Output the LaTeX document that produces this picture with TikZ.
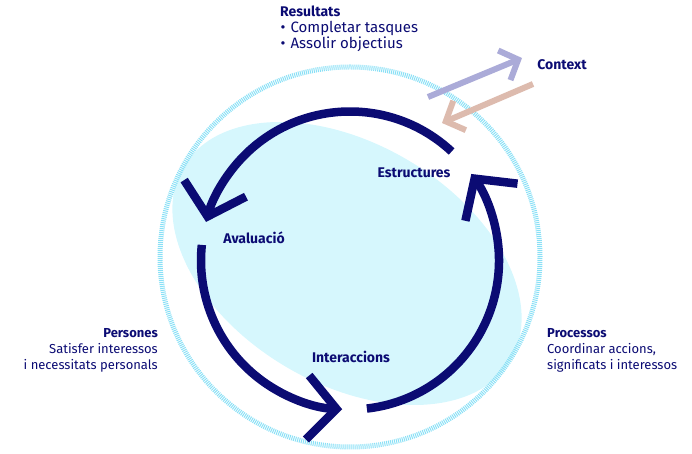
\documentclass[tikz,border=0pt]{standalone}
\usepackage{fontspec}
\setmainfont{Fira Sans}
\usetikzlibrary{arrows.meta}
\usetikzlibrary{positioning}

\definecolor{navy}{HTML}{0B0B73}
\definecolor{cyanfill}{HTML}{D6F7FD}
\definecolor{ringcyan}{HTML}{8AE0F6}
\definecolor{lavender}{HTML}{ABABD8}
\definecolor{peach}{HTML}{DDBBAE}

\begin{document}
\begin{tikzpicture}[
        x=1pt, y=1pt,
        every node/.style={inner sep=0pt, text=navy, font=\fontsize{13}{16}\selectfont},
        title/.style={font=\fontsize{14}{16}\selectfont\bfseries},
        cycle/.style={draw=navy, line width=8.5pt, -{Straight Barb[length=29pt,width=64pt]}},
        link/.style={line width=6pt, -{Straight Barb[length=15pt,width=32pt]}}]

        \useasboundingbox (0,0) rectangle (692,454);

        % background blob and dotted ring
        \coordinate (C) at (350,193.5);
        \fill[cyanfill, rotate around={-30.6:(347,190.5)}] (347,190.5) ellipse [x radius=190, y radius=120];
        \draw[ringcyan, line width=5pt, dash pattern=on 1pt off 1pt] (350,197) circle [radius=190];

        % the cycle
        \draw[cycle] (C) ++(47:149) arc [start angle=47, end angle=165, radius=149];
        \draw[cycle] (C) ++(174:149) arc [start angle=174, end angle=267, radius=149];
        \draw[cycle] (C) ++(276.5:149) arc [start angle=276.5, end angle=395.5, radius=149];

        \node[title] (Est) at (414,281) {Estructures};
        \node[title] (Ava) at (254,216) {Avaluació};
        \node[title] (Int) at (351,97) {Interaccions};

        % context
        \node[title] (Ctx) at (562,389) {Context};
        \coordinate (out1) at (428,357);
        \coordinate (out2) at (522,396);
        \coordinate (in1) at (533,370);
        \coordinate (in2) at (442,331);
        \draw[link, lavender] (out1) -- (out2);
        \draw[link, peach] (in1) -- (in2);

        % outer labels
        \node[anchor=north west, align=left, font=\fontsize{15}{16}\selectfont] (Res) at (280,448)
            {{\fontsize{14}{16}\selectfont\bfseries Resultats}\\
             \hspace{0.5pt}•\hspace{5pt}Completar tasques\\
             \hspace{0.5pt}•\hspace{5pt}Assolir objectius};
        \node[anchor=north east, align=right] (Per) at (158,126)
            {\textbf{Persones}\\ Satisfer interessos\\ i necessitats personals};
        \node[anchor=north west, align=left] (Pro) at (547,126)
            {\textbf{Processos}\\ Coordinar accions,\\ significats i interessos};

    \end{tikzpicture}
\end{document}
